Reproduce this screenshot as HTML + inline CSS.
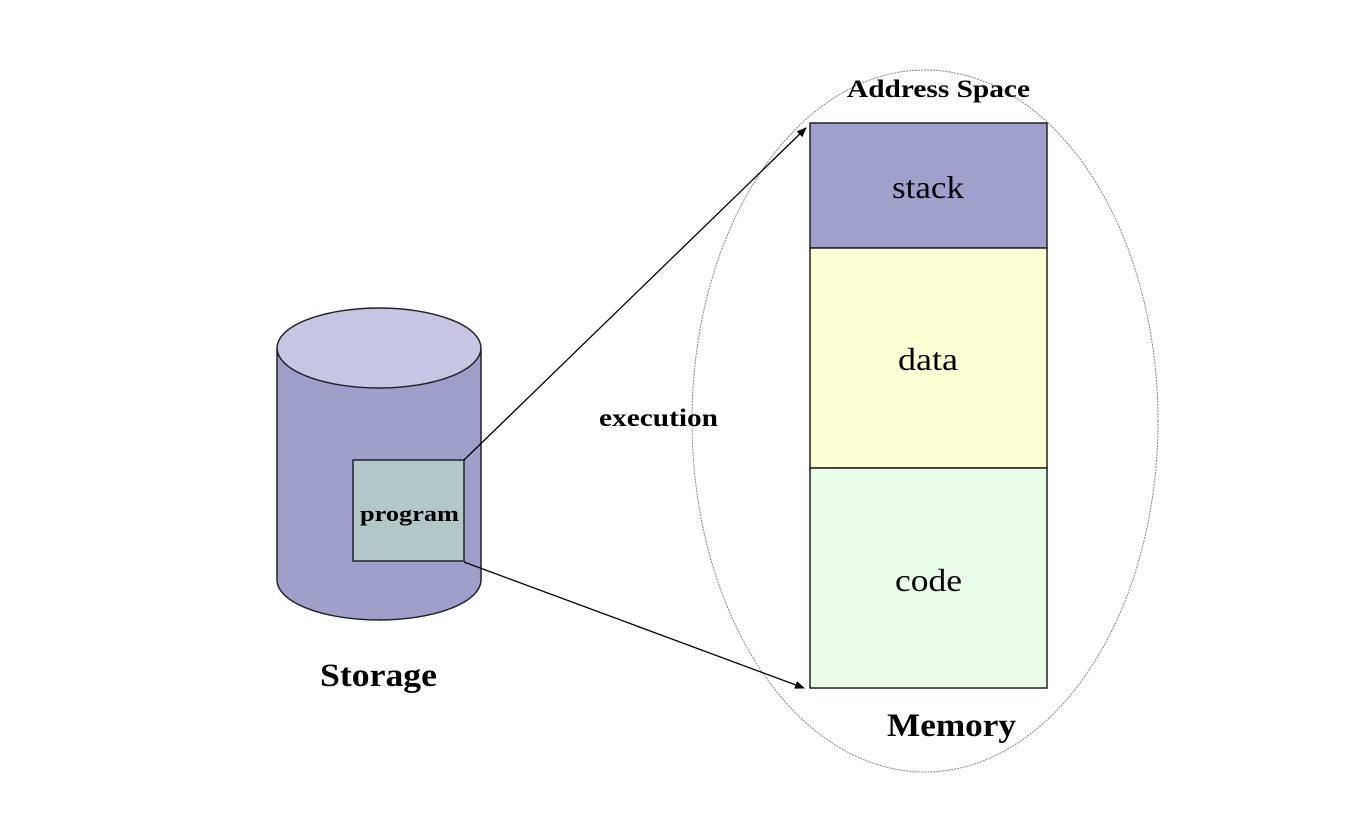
<!DOCTYPE html>
<html><head><style>body{margin:0;background:#fff}</style></head><body>
<svg width="1352" height="826" xmlns="http://www.w3.org/2000/svg" font-family="Liberation Serif, serif">
<defs><marker id="a" markerWidth="10" markerHeight="8" refX="9" refY="4" orient="auto" markerUnits="userSpaceOnUse"><path d="M0,0 L10,4 L0,8 z" fill="#000"/></marker></defs>
<ellipse cx="925" cy="421" rx="233" ry="351" fill="none" stroke="#888" stroke-width="1" stroke-dasharray="2,1"/>
<path d="M277,349 L277,580 A102,40 0 0 0 481,580 L481,349" fill="#9f9fcc" stroke="#222" stroke-width="1.5"/>
<ellipse cx="379" cy="348" rx="102" ry="40" fill="#c6c6e2" stroke="#222" stroke-width="1.5"/>
<rect x="353" y="460" width="111" height="101" fill="#b3c7c9" stroke="#222" stroke-width="1.5"/>
<text x="360" y="521" font-size="22" font-weight="bold" textLength="99" lengthAdjust="spacingAndGlyphs">program</text>
<text x="320" y="686" font-size="33" font-weight="bold" textLength="117" lengthAdjust="spacingAndGlyphs">Storage</text>
<text x="599" y="426" font-size="25" font-weight="bold" textLength="119" lengthAdjust="spacingAndGlyphs">execution</text>
<rect x="810" y="123" width="237" height="125" fill="#a0a0cc" stroke="#222" stroke-width="1.5"/>
<rect x="810" y="248" width="237" height="220" fill="#ffffd4" stroke="#222" stroke-width="1.5"/>
<rect x="810" y="468" width="237" height="220" fill="#e8fce8" stroke="#222" stroke-width="1.5"/>
<text x="892" y="198" font-size="32" textLength="72" lengthAdjust="spacingAndGlyphs">stack</text>
<text x="898" y="370" font-size="32" textLength="60" lengthAdjust="spacingAndGlyphs">data</text>
<text x="895" y="591" font-size="32" textLength="67" lengthAdjust="spacingAndGlyphs">code</text>
<text x="847" y="97" font-size="25" font-weight="bold" textLength="183" lengthAdjust="spacingAndGlyphs">Address Space</text>
<text x="887" y="736" font-size="33" font-weight="bold" textLength="129" lengthAdjust="spacingAndGlyphs">Memory</text>
<line x1="464" y1="460" x2="806" y2="128" stroke="#000" stroke-width="1.3" marker-end="url(#a)"/>
<line x1="464" y1="562" x2="804" y2="688" stroke="#000" stroke-width="1.3" marker-end="url(#a)"/>
</svg>
</body></html>
